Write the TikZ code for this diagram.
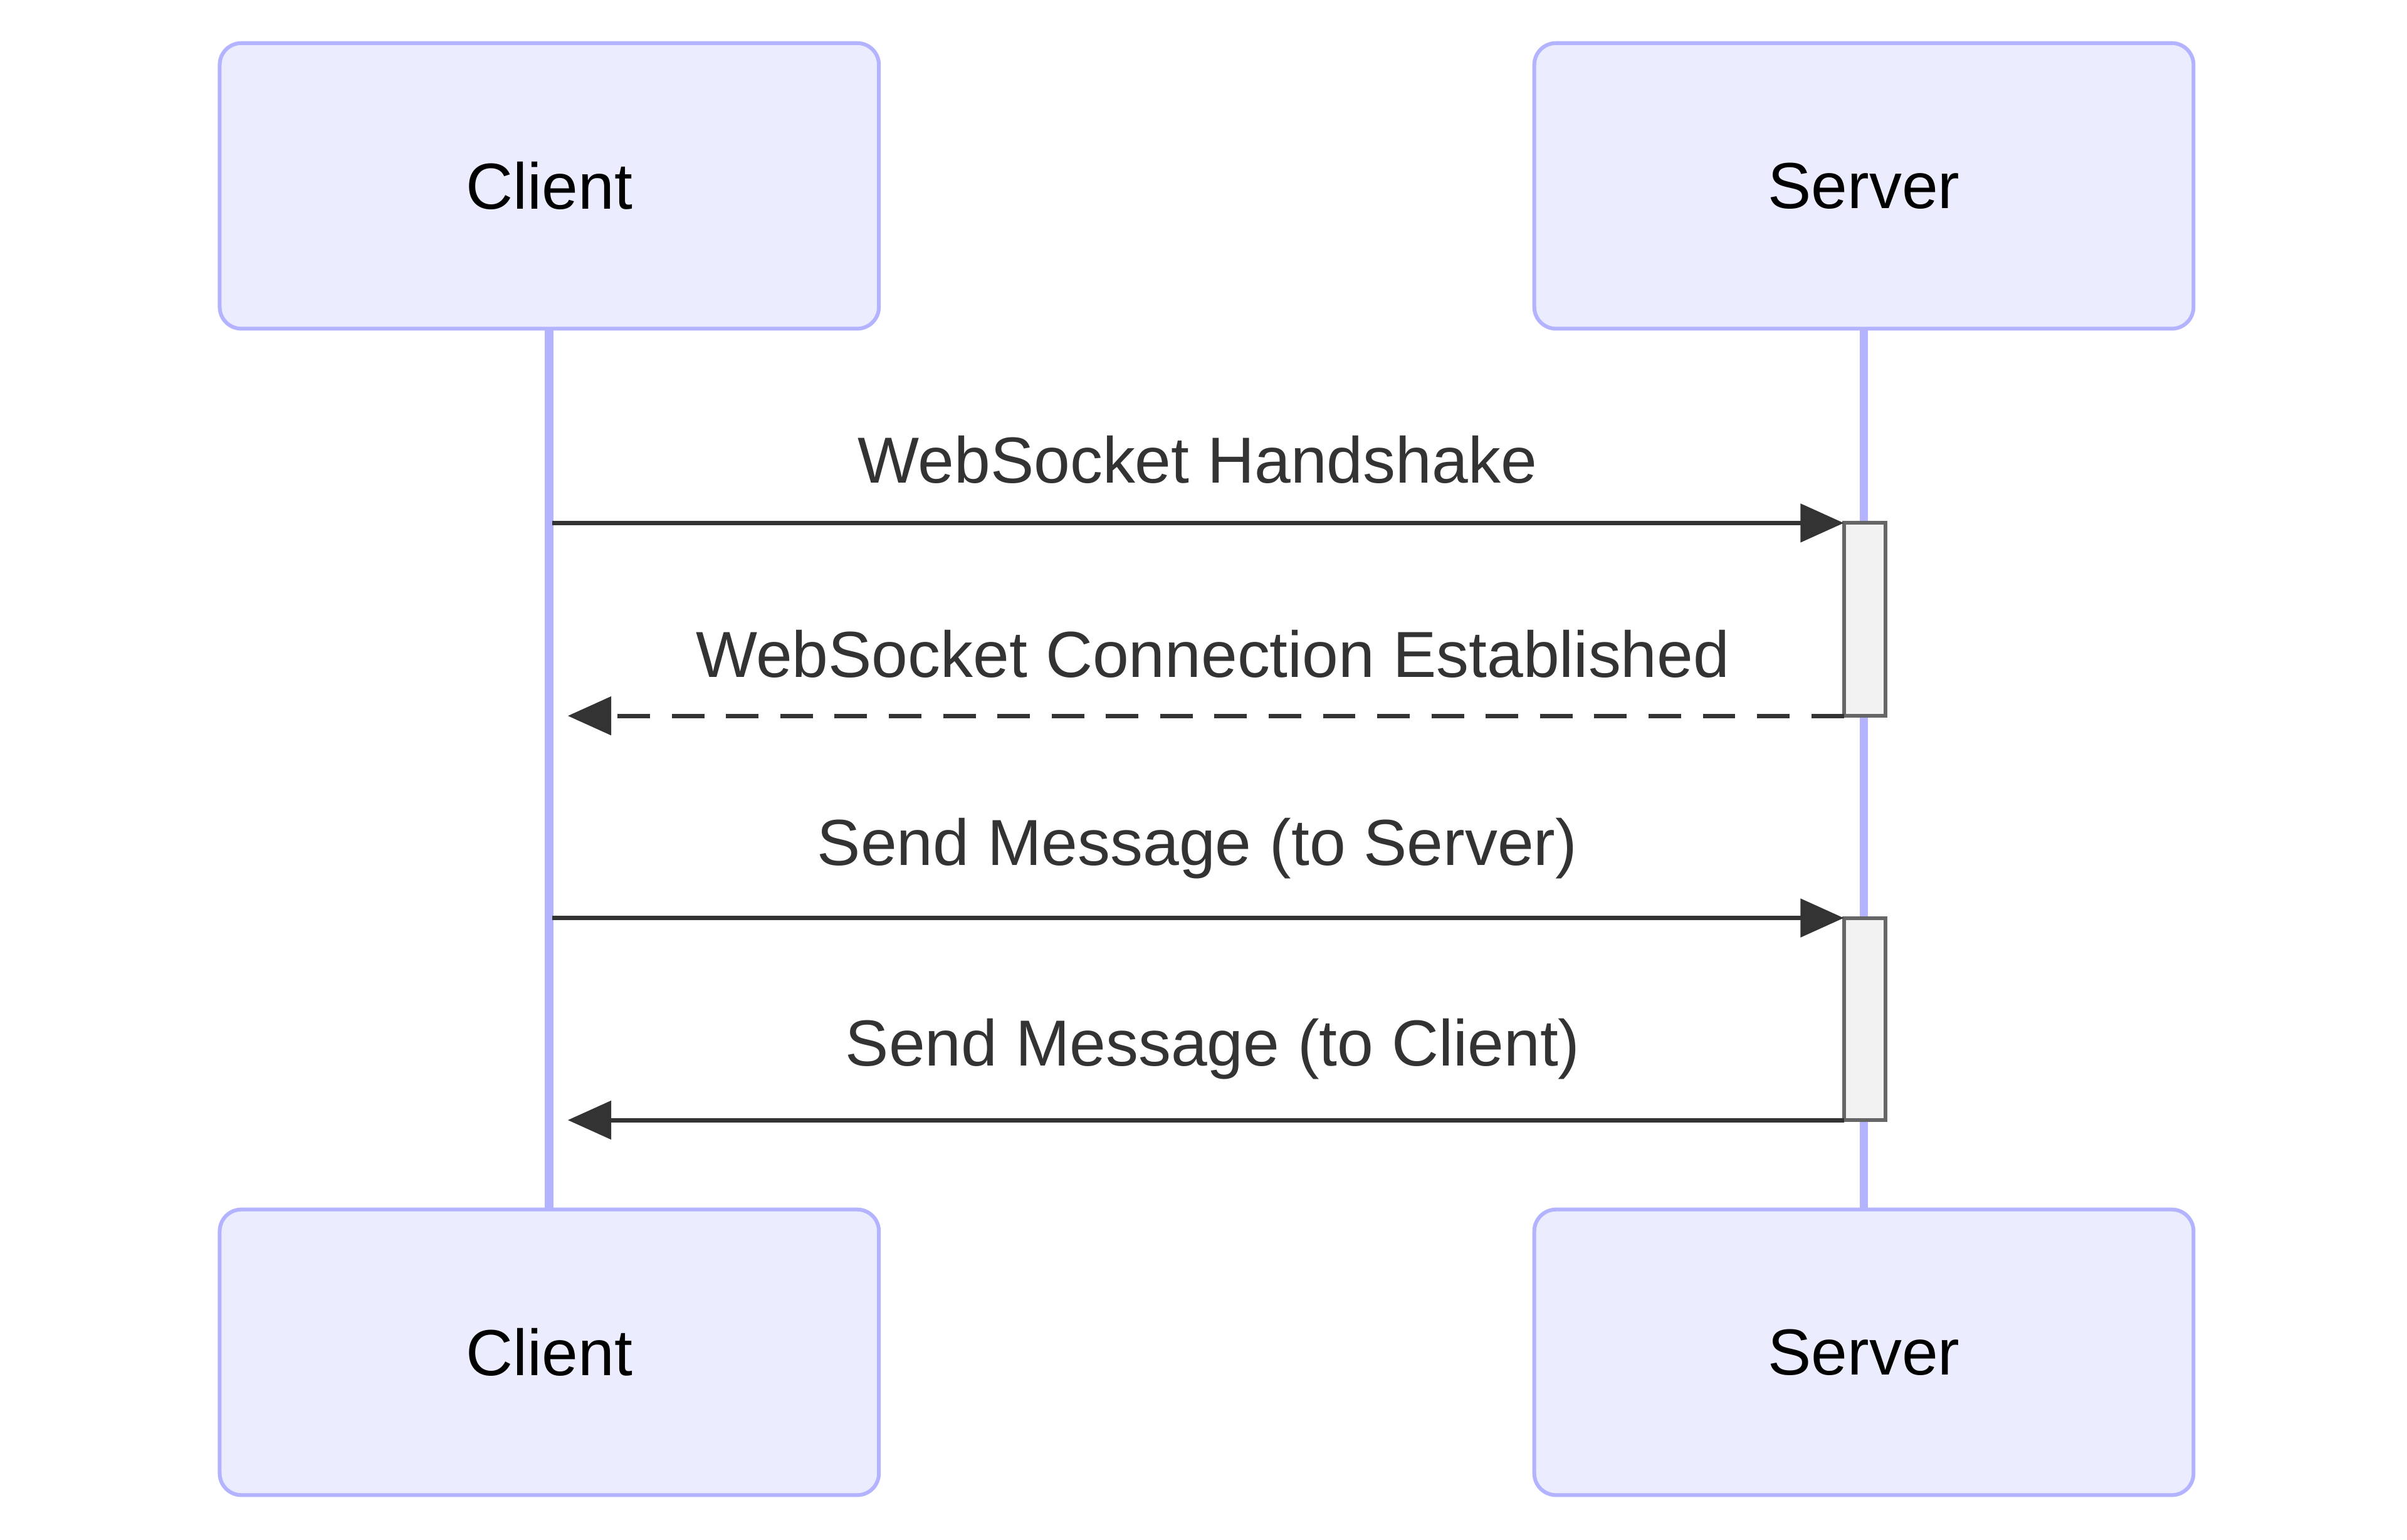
\documentclass[tikz,border=0pt]{standalone}
\usepackage{fontspec}
\setmainfont{Liberation Sans}
\usetikzlibrary{arrows.meta}
\definecolor{actfill}{HTML}{ECECFF}
\definecolor{actline}{HTML}{B3B3FF}
\definecolor{msgcol}{HTML}{333333}
\begin{document}
\begin{tikzpicture}[x=0.01cm, y=-0.01cm]
%styles
\tikzset{actor/.style={rectangle, rounded corners=4pt, draw=actline, fill=actfill, line width=0.7pt,
    minimum width=4.27cm, minimum height=1.85cm, font=\fontsize{12}{14}\selectfont},
  lifeline/.style={draw=actline, line width=1.6pt},
  msg/.style={draw=msgcol, line width=0.8pt, -{Triangle[length=8pt,width=7pt]}},
  msglabel/.style={text=msgcol, font=\fontsize{12}{14}\selectfont},
  activation/.style={draw=black!60, fill=black!5, line width=0.7pt}}
\useasboundingbox (0,0) rectangle (1560,998);
%acteurs
\node[actor] (clientTop) at (356,120.5) {Client};
\node[actor] (serverTop) at (1208,120.5) {Server};
\node[actor] (clientBot) at (356,876.5) {Client};
\node[actor] (serverBot) at (1208,876.5) {Server};
\draw[lifeline] (clientTop) -- (clientBot);
\draw[lifeline] (serverTop) -- (serverBot);
%activations
\draw[activation] (1195,339) rectangle (1222,464);
\draw[activation] (1195,595) rectangle (1222,726);
%messages
\coordinate (c1) at (358,339); \coordinate (s1) at (1195,339);
\coordinate (s2) at (1195,464); \coordinate (c2) at (368,464);
\coordinate (c3) at (358,595); \coordinate (s3) at (1195,595);
\coordinate (s4) at (1195,726); \coordinate (c4) at (368,726);
\draw[msg] (c1) -- (s1);
\draw[msg, dashed, dash pattern=on 6pt off 4pt] (s2) -- (c2);
\draw[msg] (c3) -- (s3);
\draw[msg] (s4) -- (c4);
\node[msglabel] (lab1) at (776,298) {WebSocket Handshake};
\node[msglabel] (lab2) at (786,424) {WebSocket Connection Established};
\node[msglabel] (lab3) at (776,550) {Send Message (to Server)};
\node[msglabel] (lab4) at (786,680) {Send Message (to Client)};
\end{tikzpicture}
\end{document}
